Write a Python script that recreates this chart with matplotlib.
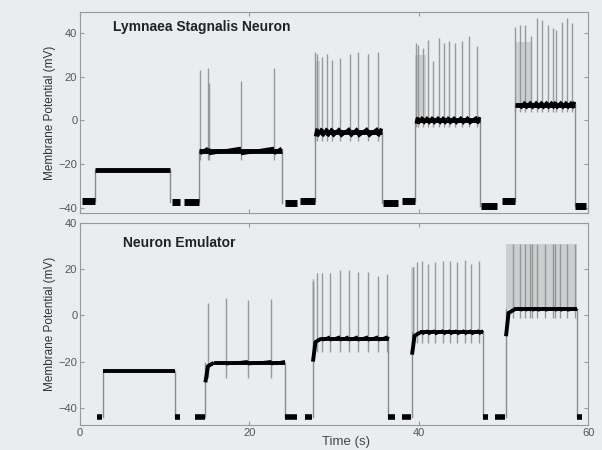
import matplotlib
matplotlib.use("Agg")
import matplotlib.pyplot as plt
import numpy as np

plt.rcParams['font.family'] = ['Liberation Sans', 'DejaVu Sans']

# ---- Lymnaea stagnalis neuron (top) ----
neu_on = [1.8, 14.0, 27.7, 39.5, 51.4]
neu_off = [10.6, 23.8, 35.6, 47.2, 58.4]
neu_level = [-22.5, -14.0, -5.5, 0.0, 7.0]
neu_ripple = [0.0, 1.2, 1.8, 1.5, 1.5]
neu_pre_t0 = [0.2, 12.3, 26.0, 38.0, 49.8]
neu_pre_t1 = [1.8, 14.0, 27.7, 39.5, 51.4]
neu_pre_v = [-37.0, -37.5, -37.0, -36.8, -36.8]
neu_post_t0 = [10.8, 24.2, 35.8, 47.4, 58.5]
neu_post_t1 = [11.8, 25.6, 37.5, 49.2, 59.7]
neu_post_v = [-37.5, -38.0, -37.8, -39.2, -39.2]
neu_ahp = [-22.5, -18.0, -9.5, -3.0, 4.0]
neu_spk_t = [[],
             [14.2, 15.1, 15.2, 19.0, 22.9],
             [27.8, 28.0, 28.6, 29.2, 29.8, 30.7, 31.9, 32.8, 34.0, 35.2],
             [39.7, 39.9, 40.5, 41.1, 41.7, 42.4, 43.0, 43.6, 44.3, 45.1, 45.9, 46.9],
             [51.4, 52.0, 52.6, 53.3, 54.0, 54.6, 55.2, 55.8, 56.2, 56.9, 57.5, 58.1]]
neu_spk_v = [[],
             [23.0, 24.0, 17.0, 18.0, 24.0],
             [31.5, 30.5, 29.0, 30.5, 27.7, 28.5, 30.5, 31.5, 30.5, 31.5],
             [35.3, 34.5, 33.0, 36.8, 27.0, 37.6, 35.3, 36.1, 35.3, 36.1, 38.6, 34.1],
             [42.9, 43.6, 43.6, 38.6, 46.7, 45.9, 43.6, 42.1, 41.4, 45.2, 46.7, 44.4]]
neu_burst_t0 = [None, None, 27.7, 39.6, 51.4]
neu_burst_t1 = [None, None, 28.3, 40.8, 53.4]
neu_burst_top = [None, None, 27.0, 30.0, 36.0]

# ---- Neuron emulator (bottom) ----
emu_on = [2.7, 14.8, 27.5, 39.2, 50.3]
emu_off = [11.2, 24.2, 36.4, 47.6, 58.7]
emu_level = [-24.0, -20.5, -10.0, -7.3, 2.6]
emu_ripple = [0.0, 0.6, 0.8, 0.8, 0.4]
emu_dip = [-24.0, -29.0, -20.0, -17.0, -9.0]
emu_pre_t0 = [2.0, 13.6, 26.6, 38.0, 49.0]
emu_pre_t1 = [2.6, 14.8, 27.4, 39.1, 50.2]
emu_post_t0 = [11.2, 24.2, 36.4, 47.6, 58.7]
emu_post_t1 = [11.8, 25.6, 37.2, 48.2, 59.3]
emu_base = -44.0
emu_ahp = [-24.0, -27.0, -16.0, -12.0, -1.0]
emu_spk_t = [[],
             [15.1, 17.2, 19.8, 22.6],
             [27.5, 28.0, 28.6, 29.5, 30.7, 31.7, 32.8, 34.0, 35.2, 36.3],
             [39.3, 39.8, 40.4, 41.1, 41.9, 42.9, 43.7, 44.5, 45.4, 46.2, 47.1],
             [51.1, 52.0, 52.6, 53.1, 53.4, 54.0, 54.9, 55.9, 56.1, 56.7, 57.5, 58.5]]
emu_spk_v = [[],
             [5.6, 7.4, 6.5, 7.0],
             [15.0, 18.3, 18.3, 18.3, 19.6, 19.6, 19.0, 19.0, 17.0, 18.0],
             [21.0, 23.2, 23.6, 22.5, 23.2, 23.6, 23.6, 23.2, 24.1, 22.5, 23.6],
             [31.0, 31.0, 31.0, 31.0, 31.0, 31.0, 31.0, 31.0, 31.0, 31.0, 31.0, 31.0]]
emu_burst_t0 = [None, None, 27.4, 39.1, 50.3]
emu_burst_t1 = [None, None, 27.8, 39.5, 50.7]
emu_burst_top = [None, None, 16.0, 21.0, 31.0]
emu_block_t0 = [None, None, None, None, 50.6]
emu_block_t1 = [None, None, None, None, 58.7]
emu_block_top = [None, None, None, None, 31.0]

bg = '#e9edf0'
spike_col = '#8c8c8c'


def draw_trace(ax, on, off, level, ripple, pre_t0, pre_t1, pre_v, post_t0, post_t1, post_v,
               ahp, spk_t, spk_v, burst_t0, burst_t1, burst_top, dip=None, lw_base=5, lw_plat=3.0):
    for i in range(len(on)):
        # baseline pieces
        ax.plot([pre_t0[i], pre_t1[i]], [pre_v[i], pre_v[i]], color='black', lw=lw_base,
                solid_capstyle='butt', zorder=4)
        ax.plot([post_t0[i], post_t1[i]], [post_v[i], post_v[i]], color='black', lw=lw_base,
                solid_capstyle='butt', zorder=4)
        # step edges
        ax.plot([on[i], on[i]], [pre_v[i], level[i]], color=spike_col, lw=1, zorder=2)
        ax.plot([off[i], off[i]], [level[i], post_v[i]], color=spike_col, lw=1, zorder=2)
        # spikes
        if spk_t[i]:
            ax.vlines(spk_t[i], ahp[i], spk_v[i], color=spike_col, lw=1.0, alpha=0.85, zorder=2)
        if burst_t0[i] is not None:
            ax.fill_between([burst_t0[i], burst_t1[i]], level[i], burst_top[i],
                            color='#8a8a8a', alpha=0.3, lw=0, zorder=1)
        # plateau
        t_start = on[i]
        if dip is not None and dip[i] != level[i]:
            ax.plot([on[i], on[i] + 0.3, on[i] + 1.0], [dip[i], level[i] - 1.5, level[i]],
                    color='black', lw=lw_plat, zorder=3, solid_capstyle='butt')
            t_start = on[i] + 1.0
        ax.plot([t_start, off[i]], [level[i], level[i]], color='black', lw=lw_plat,
                solid_capstyle='butt', zorder=3)
        # sawtooth ramps between spikes
        ts = [t for t in spk_t[i] if t > t_start] + [off[i]]
        for a, b in zip(ts[:-1], ts[1:]):
            ax.plot([a, b], [level[i] - ripple[i], level[i] + ripple[i]], color='black',
                    lw=lw_plat * 0.7, solid_capstyle='butt', zorder=3)


fig = plt.figure(figsize=(6.02, 4.5), dpi=100, facecolor=bg)
ax1 = fig.add_axes([0.133, 0.527, 0.844, 0.446])
ax2 = fig.add_axes([0.133, 0.056, 0.844, 0.448])

draw_trace(ax1, neu_on, neu_off, neu_level, neu_ripple, neu_pre_t0, neu_pre_t1, neu_pre_v,
           neu_post_t0, neu_post_t1, neu_post_v, neu_ahp, neu_spk_t, neu_spk_v,
           neu_burst_t0, neu_burst_t1, neu_burst_top, lw_plat=3.5)

emu_pre_v = [emu_base] * 5
emu_post_v = [emu_base] * 5
draw_trace(ax2, emu_on, emu_off, emu_level, emu_ripple, emu_pre_t0, emu_pre_t1, emu_pre_v,
           emu_post_t0, emu_post_t1, emu_post_v, emu_ahp, emu_spk_t, emu_spk_v,
           emu_burst_t0, emu_burst_t1, emu_burst_top, dip=emu_dip, lw_base=4, lw_plat=2.8)
for i in range(5):
    if emu_block_t0[i] is not None:
        ax2.fill_between([emu_block_t0[i], emu_block_t1[i]], emu_level[i], emu_block_top[i],
                         color='#b5b5b5', alpha=0.55, lw=0, zorder=1)

ax1.set_ylim(-42.3, 49.5)
ax2.set_ylim(-47.4, 40)
for ax in (ax1, ax2):
    ax.set_facecolor(bg)
    ax.set_xlim(0, 60)
    ax.set_xticks([0, 20, 40, 60])
    ax.set_yticks([-40, -20, 0, 20, 40])
    ax.tick_params(direction='in', length=3, width=0.8, colors='#999999', labelcolor='#555555',
                   labelsize=8, top=True, right=True, pad=2)
    for s in ax.spines.values():
        s.set_color('#9a9a9a')
        s.set_linewidth(0.8)
    ax.set_ylabel('Membrane Potential (mV)', fontsize=8.5, color='#333333', labelpad=2)

ax1.set_xticklabels([])
fig.text(0.575, 0.017, 'Time (s)', fontsize=9.5, color='#444444', ha='center', va='center')

ax1.text(0.065, 0.925, 'Lymnaea Stagnalis Neuron', transform=ax1.transAxes,
         fontsize=10, fontweight='bold', color='#222222', va='center')
ax2.text(0.085, 0.9, 'Neuron Emulator', transform=ax2.transAxes,
         fontsize=10, fontweight='bold', color='#222222', va='center')

fig.savefig('out.png', dpi=100, facecolor=bg)
